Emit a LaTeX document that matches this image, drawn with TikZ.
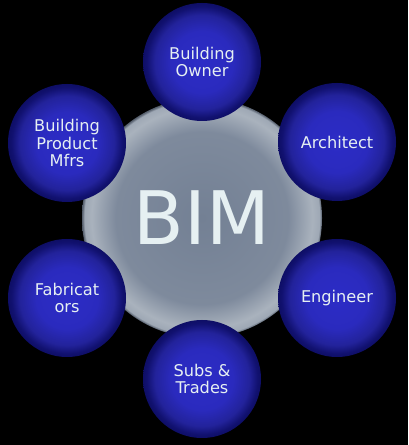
\documentclass[tikz,border=0pt]{standalone}
\usepackage{fontspec}
\setmainfont{DejaVu Sans}
\usepackage{tkz-euclide}

\definecolor{sphblue}{HTML}{2C2CC6}
\definecolor{sphdark}{HTML}{0E0E66}
\definecolor{hubgray}{HTML}{738094}
\definecolor{hubrim}{HTML}{A9B2BD}
\definecolor{labelwhite}{HTML}{E6F0F2}

\pgfdeclareradialshading{bluesphere}{\pgfpoint{0bp}{0bp}}{color(0bp)=(sphblue); color(13bp)=(sphblue!96!black); color(20bp)=(sphblue!78!black); color(23.5bp)=(sphdark!90!sphblue); color(25bp)=(sphdark); color(50bp)=(sphdark)}
\pgfdeclareradialshading{hubsphere}{\pgfpoint{0bp}{0bp}}{color(0bp)=(hubgray); color(18bp)=(hubgray!92!white); color(23bp)=(hubrim); color(24.5bp)=(hubrim!80!hubgray); color(25bp)=(hubgray!70!black); color(50bp)=(hubgray!70!black)}

\tikzset{
  ball/.style={circle,shading=bluesphere,minimum size=2.36cm,inner sep=0pt,
    text=labelwhite,align=center,font=\fontsize{9.2}{10}\selectfont},
  hub/.style={circle,shading=hubsphere,minimum size=4.8cm,inner sep=0pt,
    text=labelwhite,font=\fontsize{42}{42}\selectfont}
}

\begin{document}
\begin{tikzpicture}
\fill[black] (0,0) rectangle (8.16,8.9);
\useasboundingbox (0,0) rectangle (8.16,8.9);
\tkzDefPoint(4.04,4.54){C}
\tkzDefPoint(4.04,7.66){N}\tkzDefPoint(6.74,6.06){NE}
\tkzDefPoint(6.74,2.94){SE}\tkzDefPoint(4.04,1.32){S}
\tkzDefPoint(1.34,2.94){SW}\tkzDefPoint(1.34,6.04){NW}
\node[hub] (bim) at (C) {BIM};
\node[ball] (owner) at (N) {Building\\Owner};
\node[ball] (architect) at (NE) {Architect};
\node[ball] (engineer) at (SE) {Engineer};
\node[ball] (subs) at (S) {Subs \&\\Trades};
\node[ball] (fabricators) at (SW) {Fabricat\\ors};
\node[ball] (mfrs) at (NW) {Building\\Product\\Mfrs};
\end{tikzpicture}
\end{document}
